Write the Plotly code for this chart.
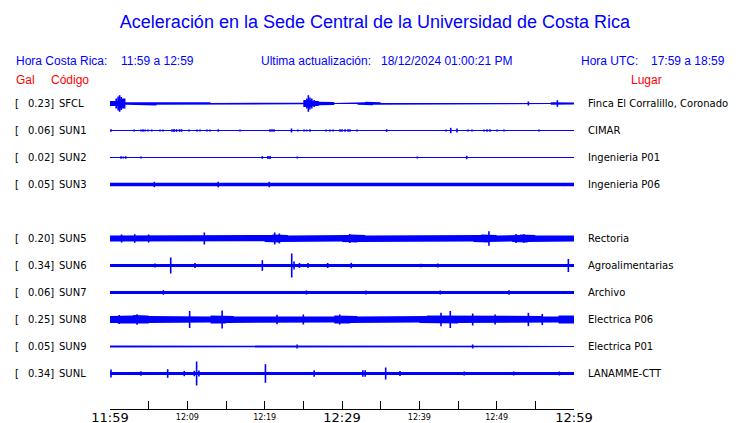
import plotly.graph_objects as go

# ---------------- data ----------------
title_text = "Aceleración en la Sede Central de la Universidad de Costa Rica"
hora_cr = "11:59 a 12:59"
ultima = "18/12/2024 01:00:21 PM"
hora_utc = "17:59 a 18:59"

codes = ["SFCL", "SUN1", "SUN2", "SUN3", "SUN4", "SUN5", "SUN6", "SUN7", "SUN8", "SUN9", "SUNL"]
gal = [0.23, 0.06, 0.02, 0.05, None, 0.20, 0.34, 0.06, 0.25, 0.05, 0.34]
places = ["Finca El Corralillo, Coronado", "CIMAR", "Ingenieria P01", "Ingenieria P06", None,
          "Rectoria", "Agroalimentarias", "Archivo", "Electrica P06", "Electrica P01", "LANAMME-CTT"]

start_label = "11:59"
major_labels = ["11:59", "12:29", "12:59"]
minor_labels = ["12:09", "12:19", "12:39", "12:49"]
tick_step_min = 5

# per-minute half-amplitude envelopes (display units) for each station, 60 minutes
env_sfcl = [2.5, 5.0, 1.3, 1.3, 1.6, 2.0, 1.3, 1.3, 1.3, 1.3,
            1.3, 1.3, 1.3, 0.6, 1.2, 1.0, 1.2, 1.0, 0.9, 0.9,
            0.7, 0.6, 0.9, 1.0, 0.8, 3.5, 2.5, 1.7, 1.5, 0.5,
            0.5, 0.5, 1.2, 1.7, 1.2, 0.5, 0.5, 0.5, 0.5, 0.5,
            0.5, 0.5, 0.5, 0.5, 0.5, 0.5, 0.5, 0.5, 0.5, 0.5,
            0.5, 0.5, 0.5, 0.5, 0.5, 0.5, 0.5, 1.3, 1.4, 1.0]
env_sun1 = [0.5, 0.5, 0.5, 0.5, 0.5, 0.5, 0.5, 0.5, 0.6, 0.6,
            0.5, 0.5, 0.5, 0.5, 0.5, 0.5, 0.5, 0.5, 0.5, 0.5,
            0.6, 0.5, 0.5, 0.5, 0.5, 0.5, 0.5, 0.5, 0.5, 0.6,
            0.6, 0.5, 0.5, 0.5, 0.5, 0.5, 0.5, 0.5, 0.5, 0.5,
            0.5, 0.5, 0.5, 0.5, 0.5, 0.5, 0.5, 0.5, 0.6, 0.5,
            0.5, 0.5, 0.5, 0.5, 0.5, 0.5, 0.5, 0.5, 0.5, 0.5]
env_sun2 = [0.5, 0.5, 0.5, 0.5, 0.5, 0.5, 0.5, 0.5, 0.5, 0.5,
            0.5, 0.5, 0.5, 0.5, 0.5, 0.5, 0.5, 0.5, 0.5, 0.5,
            0.5, 0.5, 0.5, 0.5, 0.5, 0.5, 0.5, 0.5, 0.5, 0.5,
            0.5, 0.5, 0.5, 0.5, 0.5, 0.5, 0.5, 0.5, 0.5, 0.5,
            0.5, 0.5, 0.5, 0.5, 0.5, 0.5, 0.5, 0.5, 0.5, 0.5,
            0.5, 0.5, 0.5, 0.5, 0.5, 0.5, 0.5, 0.5, 0.5, 0.5]
env_sun3 = [1.7, 1.7, 1.7, 1.7, 1.7, 1.7, 1.7, 1.7, 1.7, 1.7,
            1.7, 1.7, 1.7, 1.7, 1.7, 1.7, 1.7, 1.7, 1.7, 1.7,
            1.7, 1.7, 1.7, 1.7, 1.7, 1.7, 1.7, 1.7, 1.7, 1.7,
            1.7, 1.7, 1.7, 1.7, 1.7, 1.7, 1.7, 1.7, 1.7, 1.7,
            1.7, 1.7, 1.7, 1.7, 1.7, 1.7, 1.7, 1.7, 1.7, 1.7,
            1.7, 1.7, 1.7, 1.7, 1.7, 1.7, 1.7, 1.7, 1.7, 1.7]
env_sun5 = [3.0, 3.0, 3.5, 3.5, 3.5, 3.3, 3.0, 3.0, 3.0, 3.0,
            2.8, 3.0, 3.0, 3.0, 2.8, 3.0, 3.0, 2.8, 2.8, 2.8,
            3.5, 4.0, 3.5, 3.0, 3.0, 3.0, 3.0, 3.0, 3.0, 3.0,
            3.5, 4.0, 3.5, 3.0, 2.8, 2.8, 2.8, 2.8, 2.8, 2.8,
            3.0, 2.8, 2.8, 2.8, 2.8, 2.8, 3.0, 3.5, 4.0, 3.5,
            3.0, 3.0, 3.5, 4.0, 3.5, 3.0, 3.0, 3.0, 3.0, 3.0]
env_sun6 = [1.4, 1.4, 1.4, 1.4, 1.4, 1.4, 1.4, 1.6, 1.4, 1.4,
            1.4, 1.4, 1.4, 1.4, 1.4, 1.4, 1.4, 1.4, 1.4, 1.4,
            1.4, 1.4, 1.4, 1.6, 1.6, 1.6, 1.4, 1.4, 1.4, 1.4,
            1.4, 1.4, 1.4, 1.4, 1.4, 1.4, 1.4, 1.4, 1.4, 1.4,
            1.4, 1.4, 1.4, 1.4, 1.4, 1.4, 1.4, 1.4, 1.4, 1.4,
            1.4, 1.4, 1.4, 1.4, 1.4, 1.4, 1.4, 1.4, 1.4, 1.4]
env_sun7 = [1.4, 1.4, 1.4, 1.4, 1.4, 1.4, 1.4, 1.4, 1.4, 1.4,
            1.4, 1.4, 1.4, 1.4, 1.4, 1.4, 1.4, 1.4, 1.4, 1.4,
            1.4, 1.4, 1.4, 1.4, 1.4, 1.4, 1.4, 1.4, 1.4, 1.4,
            1.4, 1.4, 1.4, 1.4, 1.4, 1.4, 1.4, 1.4, 1.4, 1.4,
            1.4, 1.4, 1.4, 1.4, 1.4, 1.4, 1.4, 1.4, 1.4, 1.4,
            1.4, 1.4, 1.4, 1.4, 1.4, 1.4, 1.4, 1.4, 1.4, 1.4]
env_sun8 = [3.5, 4.0, 4.0, 4.5, 4.0, 3.5, 3.0, 3.5, 3.0, 3.5,
            3.5, 3.0, 3.0, 4.0, 4.0, 3.5, 3.0, 3.0, 3.0, 3.0,
            3.0, 3.5, 3.5, 3.5, 3.0, 3.5, 3.0, 3.0, 3.0, 4.0,
            4.0, 3.5, 3.0, 3.0, 3.0, 3.0, 3.0, 3.0, 3.0, 3.0,
            3.5, 4.0, 4.0, 4.0, 4.0, 3.5, 3.5, 3.5, 3.5, 3.5,
            3.5, 3.5, 3.5, 3.5, 3.5, 3.5, 3.0, 3.0, 4.0, 4.0]
env_sun9 = [1.0, 1.0, 0.9, 1.0, 0.9, 0.5, 0.5, 0.7, 1.0, 0.9,
            1.0, 0.8, 0.8, 0.9, 1.0, 0.8, 0.5, 1.0, 0.7, 1.0,
            1.0, 0.9, 1.0, 0.8, 0.9, 1.0, 0.8, 1.0, 0.9, 0.9,
            1.0, 0.6, 0.8, 0.5, 0.5, 0.5, 0.5, 0.5, 0.5, 0.5,
            0.6, 0.6, 0.5, 1.0, 1.0, 0.9, 1.0, 0.7, 0.8, 0.7,
            0.6, 1.0, 1.0, 0.8, 1.0, 0.5, 1.0, 0.7, 0.9, 0.6]
env_sunl = [1.6, 1.6, 1.6, 1.6, 1.6, 1.6, 1.6, 1.6, 1.6, 1.6,
            1.6, 1.8, 1.6, 1.6, 1.6, 1.6, 1.6, 1.6, 1.6, 1.6,
            1.6, 1.6, 1.6, 1.6, 1.6, 1.6, 1.6, 1.6, 1.6, 1.6,
            1.6, 1.6, 1.6, 1.6, 1.6, 1.6, 1.6, 1.6, 1.6, 1.6,
            1.6, 1.6, 1.6, 1.6, 1.6, 1.6, 1.6, 1.6, 1.6, 1.6,
            1.6, 1.6, 1.6, 1.6, 1.6, 1.6, 1.6, 1.6, 1.6, 1.6]

# spikes: [minute after 11:59, half-amplitude]
spk_sfcl = [[0.8, 5], [1.05, 7], [1.25, 8.3], [1.45, 6.5], [1.7, 4.5],
            [25.45, 5], [25.65, 8.3], [25.85, 6], [26.1, 5], [26.4, 3.5],
            [54.1, 2], [57.85, 3.3]]
spk_sun1 = [[0.13, 1.3], [3.14, 1], [4.0, 1], [4.27, 1.2], [4.53, 1], [4.91, 1], [5.39, 1],
            [6.47, 1], [6.85, 1], [8.02, 1.3], [8.28, 1.5], [8.6, 1.3], [8.99, 1.3], [9.25, 1.3],
            [10.22, 1], [11.25, 1], [11.64, 1], [12.54, 1], [12.93, 1], [14.0, 1.2], [16.81, 1],
            [20.69, 1.3], [20.95, 1.3], [21.21, 1.3], [23.47, 2], [24.31, 1], [25.09, 1],
            [25.41, 1], [25.86, 1.3], [27.93, 1], [28.45, 1], [28.84, 1], [29.74, 1.3],
            [30.0, 1.3], [30.39, 1.3], [30.78, 1.3], [31.04, 1.3], [31.94, 1], [35.78, 1.3],
            [43.45, 1], [44.06, 2.7], [44.87, 2], [46.3, 1], [46.81, 1], [48.36, 1],
            [48.75, 1.3], [49.14, 1.3], [50.05, 1], [50.95, 1], [55.48, 1]]
spk_sun2 = [[1.42, 1.3], [1.72, 1], [2.03, 1.3], [4.01, 1], [19.69, 1.3], [20.43, 1.5],
            [20.69, 1.5], [24.22, 1], [39.74, 1], [46.13, 1.7]]
spk_sun3 = [[5.73, 2.7], [13.99, 2.7], [20.6, 2.7]]
spk_sun5 = [[1.5, 4], [3.2, 4.3], [5.0, 4], [12.2, 6], [21.3, 6], [21.9, 5], [31.0, 4.5],
            [49.0, 7.3], [52.5, 4.5], [53.5, 4.3]]
spk_sun6 = [[5.8, 2], [7.85, 8], [11.0, 2.5], [19.7, 5.3], [23.5, 12], [23.8, 4], [24.5, 2.5],
            [25.6, 2.5], [28.15, 2.5], [31.2, 2.7], [40.2, 1.8], [42.4, 2], [59.27, 6.5]]
spk_sun7 = [[6.9, 2.3], [25.4, 2], [33.1, 2], [42.7, 2], [51.6, 2.3]]
spk_sun8 = [[1.2, 4.5], [3.5, 5.3], [10.3, 8.5], [14.5, 9], [21.6, 4.7], [25.0, 5], [29.7, 5],
            [42.8, 6.7], [44.0, 8.5], [46.9, 6], [49.8, 5], [54.1, 6.7], [55.9, 5.5]]
spk_sun9 = [[24.2, 2], [46.9, 2]]
spk_sunl = [[0.13, 4], [4.0, 2.3], [7.46, 4.3], [9.6, 2.7], [10.9, 2.7], [11.2, 12], [11.5, 3],
            [20.1, 9.3], [26.4, 3.3], [32.7, 3.3], [33.0, 3.3], [35.65, 6], [37.5, 2.5],
            [45.8, 2], [52.2, 2], [58.1, 2]]

envelopes = {"SFCL": env_sfcl, "SUN1": env_sun1, "SUN2": env_sun2, "SUN3": env_sun3,
             "SUN5": env_sun5, "SUN6": env_sun6, "SUN7": env_sun7, "SUN8": env_sun8,
             "SUN9": env_sun9, "SUNL": env_sunl}
spikes = {"SFCL": spk_sfcl, "SUN1": spk_sun1, "SUN2": spk_sun2, "SUN3": spk_sun3,
          "SUN5": spk_sun5, "SUN6": spk_sun6, "SUN7": spk_sun7, "SUN8": spk_sun8,
          "SUN9": spk_sun9, "SUNL": spk_sunl}

# ---------------- styling / layout ----------------
BLUE = "#0000ff"
RED = "#ff0000"
W, H = 740, 423
L, R, T, B = 110, 166, 90, 14
PW, PH = W - L - R, H - T - B
ROW_PX = 27.0
AMP_SCALE = 1.0 / ROW_PX
TOP_PAD = 13.5 / ROW_PX

def to_min(lbl):
    h, m = map(int, lbl.split(":"))
    h0, m0 = map(int, start_label.split(":"))
    return (h * 60 + m) - (h0 * 60 + m0)

span = to_min(major_labels[-1])

def px_x(px):
    return (px - L) / PW

def px_y(py):
    return (H - B - py) / PH

fig = go.Figure()

for k, code in enumerate(codes):
    env = envelopes.get(code)
    if env is None:
        continue
    c = -k
    xs, ys = [], []
    for i, a in enumerate(env):
        xs += [i, i + 1]
        ys += [c + a * AMP_SCALE, c + a * AMP_SCALE]
    for i in reversed(range(len(env))):
        a = env[i]
        xs += [i + 1, i]
        ys += [c - a * AMP_SCALE, c - a * AMP_SCALE]
    fig.add_trace(go.Scatter(x=xs, y=ys, mode="lines", fill="toself", fillcolor=BLUE,
                             line=dict(width=0, color=BLUE), hoverinfo="skip", showlegend=False))
    sx, sy = [], []
    for t, a in spikes[code]:
        sx += [t, t, None]
        sy += [c - a * AMP_SCALE, c + a * AMP_SCALE, None]
    fig.add_trace(go.Scatter(x=sx, y=sy, mode="lines", line=dict(width=1.6, color=BLUE),
                             hoverinfo="skip", showlegend=False))

# invisible anchor trace so the secondary (minor-label) time axis is drawn
fig.add_trace(go.Scatter(x=[0, span], y=[-100, -100], xaxis="x2", mode="markers",
                         marker=dict(opacity=0), hoverinfo="skip", showlegend=False))

annotations = []
LAB_FONT = dict(family="DejaVu Sans", size=10, color="black")
for k, code in enumerate(codes):
    if gal[k] is None:
        continue
    annotations.append(dict(text="[", x=px_x(13), y=-k, xref="paper", yref="y",
                            xanchor="left", yanchor="middle", showarrow=False, font=LAB_FONT))
    annotations.append(dict(text=f"{gal[k]:.2f}]", x=px_x(26), y=-k, xref="paper", yref="y",
                            xanchor="left", yanchor="middle", showarrow=False, font=LAB_FONT))
    annotations.append(dict(text=code, x=px_x(57), y=-k, xref="paper", yref="y",
                            xanchor="left", yanchor="middle", showarrow=False, font=LAB_FONT))
    annotations.append(dict(text=places[k], x=px_x(586), y=-k, xref="paper", yref="y",
                            xanchor="left", yanchor="middle", showarrow=False, font=LAB_FONT))

HEAD_FONT = dict(family="Liberation Sans", size=12, color=BLUE)
RED_FONT = dict(family="Liberation Sans", size=12, color=RED)
head_items = [("Hora Costa Rica:", 14, 61, HEAD_FONT), (hora_cr, 119, 61, HEAD_FONT),
              ("Ultima actualización:", 259, 61, HEAD_FONT), (ultima, 379, 61, HEAD_FONT),
              ("Hora UTC:", 579, 61, HEAD_FONT), (hora_utc, 649, 61, HEAD_FONT),
              ("Gal", 14, 80, RED_FONT), ("Código", 49, 80, RED_FONT), ("Lugar", 629, 80, RED_FONT)]
for txt, px, py, f in head_items:
    annotations.append(dict(text=txt, x=px_x(px), y=px_y(py), xref="paper", yref="paper",
                            xanchor="left", yanchor="middle", showarrow=False, font=f))

tickvals = list(range(0, span + 1, tick_step_min))
major_vals = [to_min(s) for s in major_labels]
ticktext = [major_labels[major_vals.index(v)] if v in major_vals else "" for v in tickvals]

fig.update_layout(
    width=W, height=H,
    margin=dict(l=L, r=R, t=T, b=B, pad=0, autoexpand=False),
    paper_bgcolor="white", plot_bgcolor="white",
    title=dict(text=title_text, x=375 / W, xanchor="center", y=1 - 22 / H, yanchor="middle",
               xref="container", yref="container",
               font=dict(family="Liberation Sans", size=18, color=BLUE)),
    xaxis=dict(range=[0, span], tickmode="array", tickvals=tickvals, ticktext=ticktext,
               ticks="inside", ticklen=8, tickwidth=1, tickcolor="black",
               showline=True, linecolor="black", linewidth=1, showgrid=False, zeroline=False,
               ticklabelstandoff=-4,
               tickfont=dict(family="DejaVu Sans", size=13, color="black"), fixedrange=True),
    xaxis2=dict(range=[0, span], overlaying="x", anchor="y", side="bottom", tickmode="array",
                tickvals=[to_min(s) for s in minor_labels], ticktext=minor_labels,
                ticks="", showline=False, showgrid=False, zeroline=False,
                ticklabelstandoff=2,
                tickfont=dict(family="DejaVu Sans", size=8, color="black"), fixedrange=True),
    yaxis=dict(range=[-(len(codes) - 1) - (H - B - T - TOP_PAD * ROW_PX - (len(codes) - 1) * ROW_PX) / ROW_PX,
                      TOP_PAD], visible=False, fixedrange=True),
    annotations=annotations,
    showlegend=False,
)

fig.write_html("out.html", config={"displayModeBar": False},
               post_script="document.body.style.margin='0';")
